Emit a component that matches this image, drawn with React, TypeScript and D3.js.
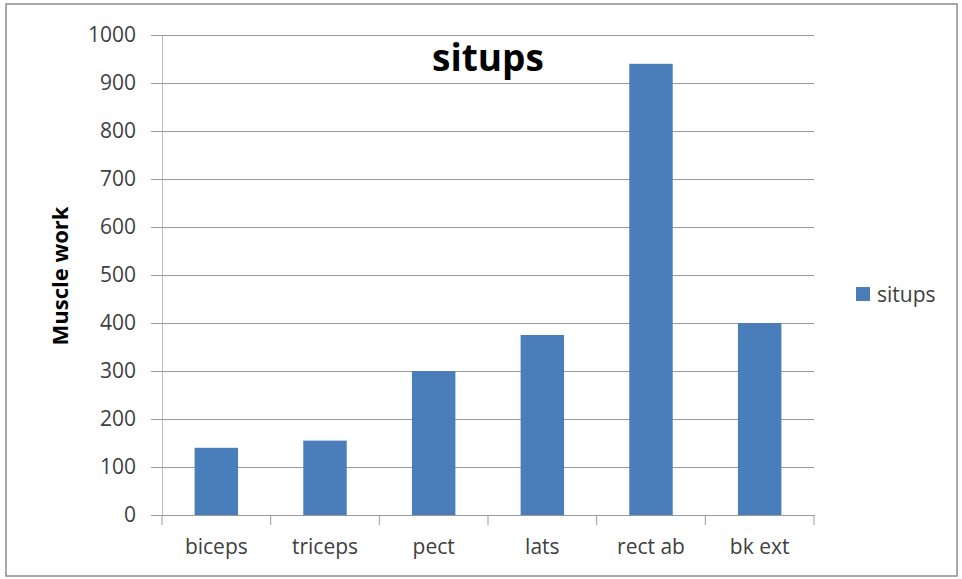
import React, { useEffect, useRef } from "react";
import * as d3 from "d3";

// data
const categories = ["biceps", "triceps", "pect", "lats", "rect ab", "bk ext"];
const situps = [140, 155, 300, 375, 940, 400];
const yTicks = [0, 100, 200, 300, 400, 500, 600, 700, 800, 900, 1000];
const seriesName = "situps";
const chartTitle = "situps";
const yTitle = "Muscle work";

const width = 962,
  height = 579,
  margin = { top: 35, right: 148, bottom: 64, left: 162 };
const barColor = "#4a7ebb";
const font = "'Open Sans', sans-serif";

const App: React.FC = () => {
  const ref = useRef<SVGSVGElement | null>(null);

  useEffect(() => {
    const svg = d3.select(ref.current);
    svg.selectAll("*").remove();

    // outer frame
    svg
      .append("rect")
      .attr("x", 6)
      .attr("y", 4)
      .attr("width", 951)
      .attr("height", 572)
      .attr("fill", "#fff")
      .attr("stroke", "#8c8c8c")
      .attr("stroke-width", 1.5);

    const x = d3
      .scaleBand<string>()
      .domain(categories)
      .range([margin.left, width - margin.right])
      .paddingInner(0.6)
      .paddingOuter(0.3);

    const y = d3
      .scaleLinear()
      .domain([0, 1000])
      .range([height - margin.bottom, margin.top]);

    // gridlines + y labels
    const yAxis = svg
      .append("g")
      .attr("transform", `translate(${margin.left},0)`)
      .call(
        d3
          .axisLeft(y)
          .tickValues(yTicks)
          .tickFormat(d3.format("d"))
          .tickSize(-(width - margin.left - margin.right))
          .tickSizeOuter(0)
          .tickPadding(26)
      );
    yAxis.select(".domain").attr("stroke", "#bdbdbd");
    yAxis
      .selectAll(".tick line")
      .attr("stroke", "#9a9a9a")
      .attr("x1", -11);
    yAxis
      .selectAll(".tick text")
      .attr("font-family", font)
      .attr("font-size", 21)
      .attr("fill", "#404040");

    // x axis
    const xAxis = svg
      .append("g")
      .attr("transform", `translate(0,${height - margin.bottom})`)
      .call(d3.axisBottom(x).tickSize(0).tickPadding(24));
    xAxis.select(".domain").attr("stroke", "#9a9a9a");
    xAxis
      .selectAll(".tick text")
      .attr("font-family", font)
      .attr("font-size", 21)
      .attr("fill", "#404040");

    // category separators
    const step = x.step();
    const bounds = d3.range(categories.length + 1).map((i) => margin.left + i * step);
    svg
      .append("g")
      .selectAll("line")
      .data(bounds)
      .join("line")
      .attr("x1", (d) => d)
      .attr("x2", (d) => d)
      .attr("y1", height - margin.bottom)
      .attr("y2", height - margin.bottom + 10)
      .attr("stroke", "#9a9a9a");

    // bars
    svg
      .append("g")
      .selectAll("rect")
      .data(situps)
      .join("rect")
      .attr("x", (_, i) => x(categories[i])!)
      .attr("y", (d) => y(d))
      .attr("width", x.bandwidth())
      .attr("height", (d) => y(0) - y(d))
      .attr("fill", barColor);

    // title
    svg
      .append("text")
      .attr("x", 488)
      .attr("y", 71)
      .attr("text-anchor", "middle")
      .attr("font-family", font)
      .attr("font-weight", "bold")
      .attr("font-size", 37)
      .attr("fill", "#000")
      .text(chartTitle);

    // y title
    svg
      .append("text")
      .attr("transform", `translate(68,276) rotate(-90)`)
      .attr("text-anchor", "middle")
      .attr("font-family", font)
      .attr("font-weight", "bold")
      .attr("font-size", 22)
      .attr("fill", "#000")
      .text(yTitle);

    // legend
    const legend = svg.append("g").attr("transform", "translate(856,287)");
    legend
      .append("rect")
      .attr("width", 14)
      .attr("height", 14)
      .attr("fill", barColor);
    legend
      .append("text")
      .attr("x", 21)
      .attr("y", 15)
      .attr("font-family", font)
      .attr("font-size", 21)
      .attr("fill", "#404040")
      .text(seriesName);
  }, []);

  return (
    <svg
      ref={ref}
      width={width}
      height={height}
      style={{ position: "absolute", left: 0, top: 0 }}
    ></svg>
  );
};

export default App;
